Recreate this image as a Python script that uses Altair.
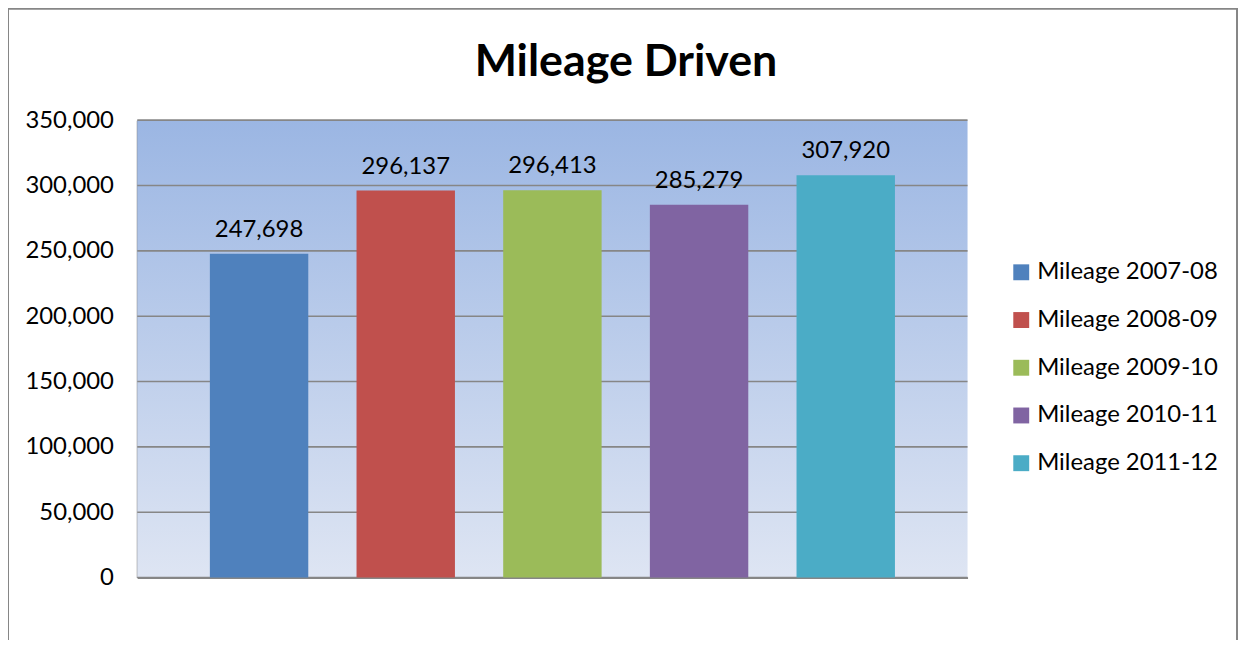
import altair as alt
import pandas as pd

series = ["Mileage 2007-08", "Mileage 2008-09", "Mileage 2009-10", "Mileage 2010-11", "Mileage 2011-12"]
values = [247698, 296137, 296413, 285279, 307920]
colors = ["#4F81BD", "#C0504D", "#9BBB59", "#8064A2", "#4BACC6"]
y_ticks = [0, 50000, 100000, 150000, 200000, 250000, 300000, 350000]

df = pd.DataFrame({"series": series, "value": values})
grid_df = pd.DataFrame({"tick": y_ticks})

FONT = "Lato"
FS = 24
W, H = 835, 460
GRAY = "#868686"

yscale = alt.Scale(domain=[0, 350000], nice=False)
xscale = alt.Scale(domain=series, paddingInner=0.329, paddingOuter=0.495)

yaxis = alt.Axis(values=y_ticks, format=",d", grid=False, ticks=False, title=None,
                 labelFont=FONT, labelFontSize=FS, labelColor="black",
                 labelPadding=24, domainColor=GRAY, domainWidth=2)

background = alt.Chart(alt.Data(values=[{"a": 1}])).mark_rect(
    color=alt.Gradient(
        gradient="linear",
        stops=[alt.GradientStop(color="#9BB6E3", offset=0),
               alt.GradientStop(color="#DEE5F3", offset=1)],
        x1=0, x2=0, y1=0, y2=1,
    )
).encode(x=alt.value(0), x2=alt.value("width"), y=alt.value(0), y2=alt.value("height"))

border = alt.Chart(alt.Data(values=[{"a": 1}])).mark_rect(
    fill=None, stroke=GRAY, strokeWidth=2
).encode(x=alt.value(-130), x2=alt.value(1106), y=alt.value(-112), y2=alt.value(560))

grid = alt.Chart(grid_df).mark_rule(color=GRAY, strokeWidth=1.6).encode(
    y=alt.Y("tick:Q", scale=yscale, axis=yaxis)
)

bars = alt.Chart(df).mark_bar().encode(
    x=alt.X("series:N", scale=xscale, sort=series,
            axis=alt.Axis(labels=False, ticks=False, title=None, domainColor=GRAY, domainWidth=2)),
    y=alt.Y("value:Q", scale=yscale, axis=yaxis),
    color=alt.Color("series:N", scale=alt.Scale(domain=series, range=colors),
                    legend=alt.Legend(title=None, orient="none", legendX=877, legendY=141,
                                      symbolType="square", symbolSize=256, symbolStrokeWidth=0,
                                      labelFont=FONT, labelFontSize=FS, labelColor="black",
                                      labelOffset=4, rowPadding=24, labelLimit=400)),
)

labels = alt.Chart(df).mark_text(font=FONT, fontSize=FS, color="black", dy=-17,
                                 baseline="alphabetic").encode(
    x=alt.X("series:N", scale=xscale, sort=series),
    y=alt.Y("value:Q", scale=yscale, axis=yaxis),
    text=alt.Text("value:Q", format=",d"),
)

chart = alt.layer(background, grid, bars, labels, border).properties(
    width=W, height=H,
    title=alt.TitleParams("Mileage Driven", font=FONT, fontSize=45, fontWeight="bold",
                          color="black", anchor="middle", dx=74, offset=-78),
    autosize=alt.AutoSizeParams(type="none"),
    padding={"left": 130, "top": 111, "right": 273, "bottom": 61},
).configure_view(stroke=None)

chart.save("out.html", embed_options={"renderer": "svg", "actions": False})
